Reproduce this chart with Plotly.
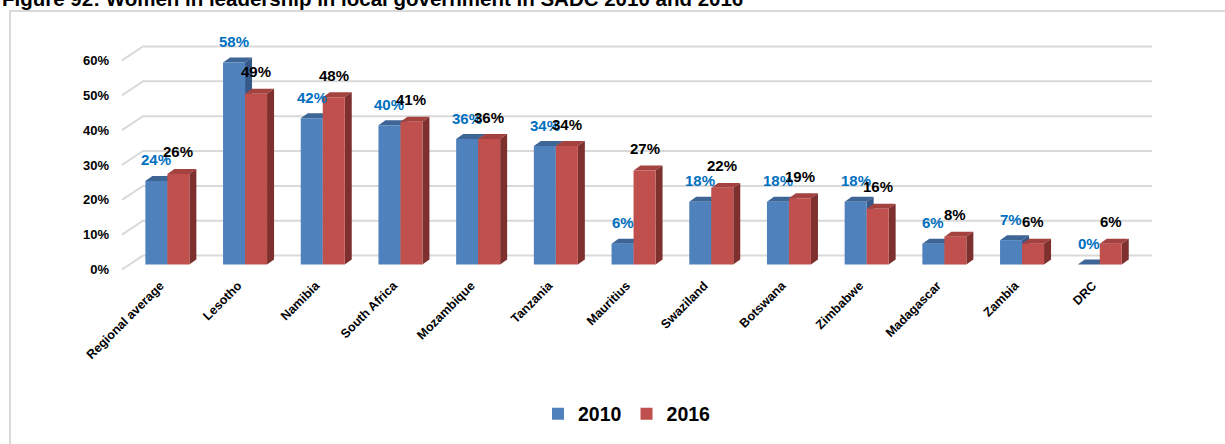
import plotly.graph_objects as go

# ---------------- data ----------------
categories = ["Regional average", "Lesotho", "Namibia", "South Africa", "Mozambique",
              "Tanzania", "Mauritius", "Swaziland", "Botswana", "Zimbabwe",
              "Madagascar", "Zambia", "DRC"]
values_2010 = [24, 58, 42, 40, 36, 34, 6, 18, 18, 18, 6, 7, 0]
values_2016 = [26, 49, 48, 41, 36, 34, 27, 22, 19, 16, 8, 6, 6]
series_names = ["2010", "2016"]
y_tick_values = [0, 10, 20, 30, 40, 50, 60]
title_text = "Figure 92: Women in leadership in local government in SADC 2010 and 2016"

# ---------------- style / layout ----------------
W, H = 1225, 444
ML, MR, MT, MB = 116, 63, 38, 168
PLOT_W = W - ML - MR          # 1046
PLOT_H = H - MT - MB          # 238
PX_PER_CAT = 77.7
X_LO = -0.5 - (128.5 - ML) / PX_PER_CAT
X_HI = X_LO + PLOT_W / PX_PER_CAT
Y_LO, Y_HI = -3, 65
PX_PER_Y = PLOT_H / (Y_HI - Y_LO)

FONT = "Liberation Sans, Arial, sans-serif"
BLUE, BLUE_TOP, BLUE_SIDE = "#4F81BD", "#3D6596", "#36598A"
RED, RED_TOP, RED_SIDE = "#C0504D", "#A3423F", "#7D302E"
LABEL_BLUE = "#0070C0"
GRID = "#D9D9D9"

BAR_W = 22 / PX_PER_CAT
DX = 7 / PX_PER_CAT
DY = 5 / PX_PER_Y


def px_to_x(px):
    return X_LO + (px - ML) / PX_PER_CAT


def px_to_paper_x(px):
    return (px - ML) / PLOT_W


def px_to_paper_y(py):
    return (H - MB - py) / PLOT_H


idx = list(range(len(categories)))

fig = go.Figure()
fig.add_trace(go.Bar(x=idx, y=values_2010, width=BAR_W, offset=-BAR_W, name=series_names[0],
                     marker=dict(color=BLUE, line=dict(width=0))))
fig.add_trace(go.Bar(x=idx, y=values_2016, width=BAR_W, offset=0, name=series_names[1],
                     marker=dict(color=RED, line=dict(width=0))))

shapes = []
# perspective gridlines
for t in y_tick_values:
    xa, xb, xc = px_to_x(122), px_to_x(143), px_to_x(1152)
    ya, yb = t - 5 / PX_PER_Y, t + 9 / PX_PER_Y
    shapes.append(dict(type="path", xref="x", yref="y", layer="below",
                       path=f"M{xa},{ya} L{xb},{yb} L{xc},{yb}",
                       line=dict(color=GRID, width=2)))


def faces(x0, x1, v, top_col, side_col):
    out = []
    out.append(dict(type="path", xref="x", yref="y", layer="between",
                    path=f"M{x0},{v} L{x1},{v} L{x1 + DX},{v + DY} L{x0 + DX},{v + DY} Z",
                    fillcolor=top_col, line=dict(width=0)))
    out.append(dict(type="path", xref="x", yref="y", layer="between",
                    path=f"M{x1},0 L{x1 + DX},{DY} L{x1 + DX},{v + DY} L{x1},{v} Z",
                    fillcolor=side_col, line=dict(width=0)))
    return out


for i in idx:
    shapes += faces(i - BAR_W, i, values_2010[i], BLUE_TOP, BLUE_SIDE)
    shapes += faces(i, i + BAR_W, values_2016[i], RED_TOP, RED_SIDE)

# outer frame (partial page box)
fx = px_to_paper_x(10)
fy_top = px_to_paper_y(11)
fy_bot = px_to_paper_y(460)
fx_right = px_to_paper_x(1240)
shapes.append(dict(type="path", xref="paper", yref="paper", layer="above",
                   path=f"M{fx},{fy_bot} L{fx},{fy_top} L{fx_right},{fy_top}",
                   line=dict(color=GRID, width=2)))

annotations = []
for i in idx:
    annotations.append(dict(x=i - BAR_W / 2, y=values_2010[i], xref="x", yref="y",
                            text=f"{values_2010[i]}%", showarrow=False, yanchor="middle",
                            yshift=21, font=dict(family=FONT, size=15, color=LABEL_BLUE, weight="bold")))
    annotations.append(dict(x=i + BAR_W / 2, y=values_2016[i], xref="x", yref="y",
                            text=f"{values_2016[i]}%", showarrow=False, yanchor="middle",
                            yshift=22, font=dict(family=FONT, size=15, color="#000000", weight="bold")))

annotations.append(dict(x=px_to_paper_x(0), y=px_to_paper_y(12), xref="paper", yref="paper",
                        xanchor="left", yanchor="bottom", showarrow=False, text=title_text,
                        font=dict(family=FONT, size=20.5, color="#000000", weight="bold")))

fig.update_layout(
    width=W, height=H,
    margin=dict(l=ML, r=MR, t=MT, b=MB, pad=0),
    paper_bgcolor="white", plot_bgcolor="rgba(0,0,0,0)",
    barmode="overlay",
    showlegend=True,
    legend=dict(orientation="h", x=px_to_paper_x(627), y=px_to_paper_y(414),
                xanchor="center", yanchor="middle",
                font=dict(family=FONT, size=19.5, color="#000000", weight="bold"),
                itemclick=False, traceorder="normal"),
    xaxis=dict(range=[X_LO, X_HI], tickvals=idx, ticktext=categories, tickangle=-45,
               showgrid=False, zeroline=False, showline=False, ticks="",
               ticklabelshift=-7,
               tickfont=dict(family=FONT, size=12.5, color="#000000", weight="bold")),
    yaxis=dict(range=[Y_LO, Y_HI], tickvals=y_tick_values,
               ticktext=[f"{t}%" for t in y_tick_values],
               showgrid=False, zeroline=False, showline=False, ticks="",
               ticklabelshift=5, ticklabelstandoff=6,
               tickfont=dict(family=FONT, size=13, color="#000000", weight="bold")),
    shapes=shapes,
    annotations=annotations,
)

fig.write_html("out.html", config={"displayModeBar": False},
               post_script="document.body.style.margin='0';document.body.style.overflow='hidden';")
